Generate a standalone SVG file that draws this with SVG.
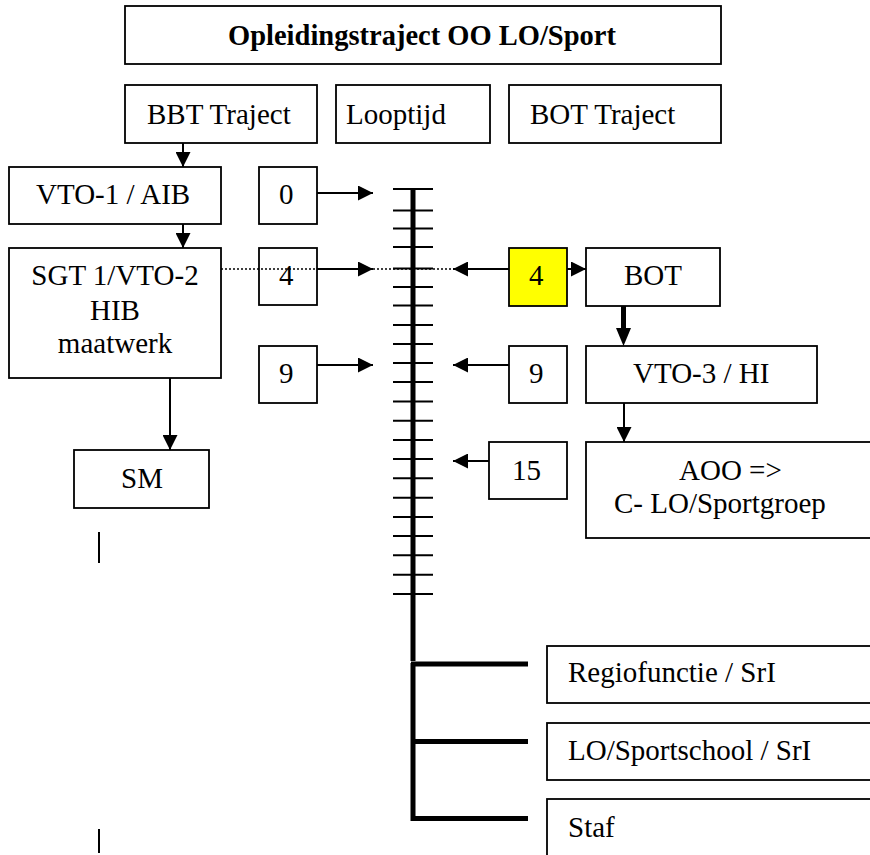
<svg xmlns="http://www.w3.org/2000/svg" width="870" height="855" viewBox="0 0 870 855">
<style>
.box{fill:#fff;stroke:#000;stroke-width:1.8}
.yl{fill:#ffff00;stroke:#000;stroke-width:1.8}
.t{font-family:"Liberation Serif","Times New Roman",serif;font-size:29px;fill:#000}
.b{font-weight:bold;font-size:28.5px}
.ln{stroke:#000;stroke-width:2;fill:none}
.thick{stroke:#000;stroke-width:5;fill:none}
.tick{stroke:#000;stroke-width:2}
.dot{stroke:#000;stroke-width:1.5;stroke-dasharray:2 2;fill:none}
</style>
<defs>
<marker id="ah" markerUnits="userSpaceOnUse" markerWidth="15" markerHeight="15" refX="15" refY="7.5" orient="auto">
<path d="M0,0 L15,7.5 L0,15 Z" fill="#000"/>
</marker>
</defs>
<rect width="870" height="855" fill="#fff"/>

<g id="title"><rect class="box" x="125" y="6" width="596" height="58"/><text class="t b" x="422" y="45" text-anchor="middle">Opleidingstraject OO LO/Sport</text></g>
<g id="bbt"><rect class="box" x="125" y="85" width="192" height="58"/><text class="t" x="147" y="124">BBT Traject</text></g>
<g id="looptijd"><rect class="box" x="336" y="85" width="154" height="58"/><text class="t" x="346" y="124">Looptijd</text></g>
<g id="bot-traject"><rect class="box" x="509" y="85" width="212" height="58"/><text class="t" x="530" y="124">BOT Traject</text></g>

<g id="vto1"><rect class="box" x="9" y="167" width="212" height="57"/><text class="t" x="36" y="204">VTO-1 / AIB</text></g>
<g id="n0"><rect class="box" x="259" y="167" width="58" height="57"/><text class="t" x="279" y="204">0</text></g>

<g id="dotted"><line class="dot" x1="221" y1="269" x2="585" y2="269"/></g>

<g id="sgt"><rect class="box" x="9" y="248" width="212" height="130"/>
<text class="t" x="115" y="285" text-anchor="middle">SGT 1/VTO-2</text>
<text class="t" x="115" y="320" text-anchor="middle">HIB</text>
<text class="t" x="115" y="353" text-anchor="middle">maatwerk</text></g>
<g id="n4l"><rect class="box" x="259" y="248" width="58" height="57" fill-opacity="0"/><text class="t" x="279" y="285">4</text></g>
<g id="n9l"><rect class="box" x="259" y="346" width="58" height="57"/><text class="t" x="279" y="383">9</text></g>

<g id="n4r"><rect class="yl" x="509" y="248" width="58" height="58"/><text class="t" x="529" y="285">4</text></g>
<g id="bot"><rect class="box" x="586" y="248" width="134" height="58"/><text class="t" x="624" y="285">BOT</text></g>
<g id="n9r"><rect class="box" x="509" y="346" width="58" height="57"/><text class="t" x="529" y="383">9</text></g>
<g id="vto3"><rect class="box" x="586" y="346" width="231" height="57"/><text class="t" x="633" y="383">VTO-3 / HI</text></g>
<g id="n15"><rect class="box" x="489" y="442" width="78" height="57"/><text class="t" x="512" y="480">15</text></g>
<g id="aoo"><rect class="box" x="586" y="442" width="300" height="96"/>
<text class="t" x="679" y="480">AOO =&gt;</text>
<text class="t" x="614" y="513">C- LO/Sportgroep</text></g>
<g id="sm"><rect class="box" x="74" y="450" width="135" height="58"/><text class="t" x="121" y="488">SM</text></g>

<g id="regio"><rect class="box" x="547" y="646" width="340" height="57"/><text class="t" x="568" y="682">Regiofunctie / SrI</text></g>
<g id="lo"><rect class="box" x="547" y="723" width="340" height="57"/><text class="t" x="568" y="760">LO/Sportschool / SrI</text></g>
<g id="staf"><rect class="box" x="547" y="799" width="340" height="80"/><text class="t" x="568" y="837">Staf</text></g>

<g id="timeline">
<line class="thick" x1="413" y1="189" x2="413" y2="661"/>
<g class="tick">
<line x1="393" y1="189" x2="433" y2="189"/>
<line x1="393" y1="210.5" x2="433" y2="210.5"/>
<line x1="393" y1="228.5" x2="433" y2="228.5"/>
<line x1="393" y1="247" x2="433" y2="247"/>
<line x1="393" y1="268.5" x2="433" y2="268.5"/>
<line x1="393" y1="287" x2="433" y2="287"/>
<line x1="393" y1="305.5" x2="433" y2="305.5"/>
<line x1="393" y1="325" x2="433" y2="325"/>
<line x1="393" y1="344" x2="433" y2="344"/>
<line x1="393" y1="363" x2="433" y2="363"/>
<line x1="393" y1="382" x2="433" y2="382"/>
<line x1="393" y1="401.5" x2="433" y2="401.5"/>
<line x1="393" y1="420.7" x2="433" y2="420.7"/>
<line x1="393" y1="440" x2="433" y2="440"/>
<line x1="393" y1="459" x2="433" y2="459"/>
<line x1="393" y1="478.3" x2="433" y2="478.3"/>
<line x1="393" y1="497.7" x2="433" y2="497.7"/>
<line x1="393" y1="517" x2="433" y2="517"/>
<line x1="393" y1="536" x2="433" y2="536"/>
<line x1="393" y1="555.3" x2="433" y2="555.3"/>
<line x1="393" y1="574.7" x2="433" y2="574.7"/>
<line x1="393" y1="594" x2="433" y2="594"/>
</g>
<path class="thick" d="M413,663 V821 M411,664 H528 M411,741.5 H528 M411,818.5 H528"/>
</g>

<g id="connectors">
<line class="ln" x1="183" y1="143" x2="183" y2="167" marker-end="url(#ah)"/>
<line class="ln" x1="183" y1="224" x2="183" y2="248" marker-end="url(#ah)"/>
<line class="ln" x1="317" y1="193" x2="373" y2="193" marker-end="url(#ah)"/>
<line class="ln" x1="317" y1="269" x2="373" y2="269" marker-end="url(#ah)"/>
<line class="ln" x1="317" y1="365" x2="373" y2="365" marker-end="url(#ah)"/>
<line class="ln" x1="509" y1="269" x2="453" y2="269" marker-end="url(#ah)"/>
<line class="ln" x1="567" y1="269" x2="586" y2="269" marker-end="url(#ah)"/>
<line class="ln" x1="509" y1="365" x2="453" y2="365" marker-end="url(#ah)"/>
<line class="ln" x1="489" y1="461" x2="453" y2="461" marker-end="url(#ah)"/>
<line class="ln" x1="170" y1="378" x2="170" y2="450" marker-end="url(#ah)"/>
<line class="ln" x1="624" y1="403" x2="624" y2="442" marker-end="url(#ah)"/>
<line class="thick" x1="623.5" y1="306" x2="623.5" y2="332"/>
<path d="M616,328 L631,328 L623.5,346 Z" fill="#000"/>
</g>

<g id="bars">
<line class="ln" x1="99" y1="532" x2="99" y2="563"/>
<line class="ln" x1="99" y1="829" x2="99" y2="853"/>
</g>
</svg>
